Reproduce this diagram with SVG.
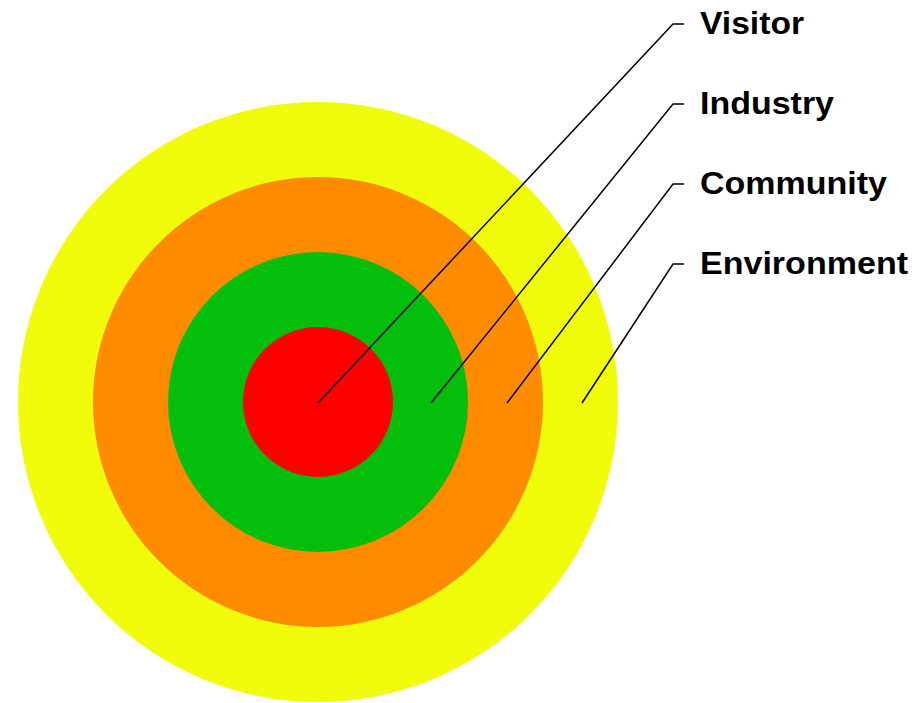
<svg xmlns="http://www.w3.org/2000/svg" width="922" height="703" viewBox="0 0 922 703">
  <style>
    .label { font-family: "Liberation Sans", Arial, sans-serif; font-weight: bold; font-size: 31px; fill: #000; }
    .leader { fill: none; stroke: #000; stroke-width: 1.5; }
  </style>
  <rect width="922" height="703" fill="#fff"/>
  <!-- concentric rings -->
  <g id="environment"><circle cx="318" cy="402" r="300" fill="#F0FC0A"/></g>
  <g id="community"><circle cx="318" cy="402" r="225" fill="#FF8C00"/></g>
  <g id="industry"><circle cx="318" cy="402" r="150" fill="#03BE0B"/></g>
  <g id="visitor"><circle cx="318" cy="402" r="75" fill="#FF0000"/></g>
  <!-- leader lines -->
  <g id="connectors">
    <polyline class="leader" points="318,403 673,24 684,24"/>
    <polyline class="leader" points="431,403 673,104 684,104"/>
    <polyline class="leader" points="507,403 673,184 684,184"/>
    <polyline class="leader" points="582,403 673,264 684,264"/>
  </g>
  <g id="labels">
    <text class="label" x="700" y="34" textLength="104" lengthAdjust="spacingAndGlyphs">Visitor</text>
    <text class="label" x="700" y="114" textLength="134" lengthAdjust="spacingAndGlyphs">Industry</text>
    <text class="label" x="700" y="194" textLength="187" lengthAdjust="spacingAndGlyphs">Community</text>
    <text class="label" x="700" y="274" textLength="208" lengthAdjust="spacingAndGlyphs">Environment</text>
  </g>
</svg>
